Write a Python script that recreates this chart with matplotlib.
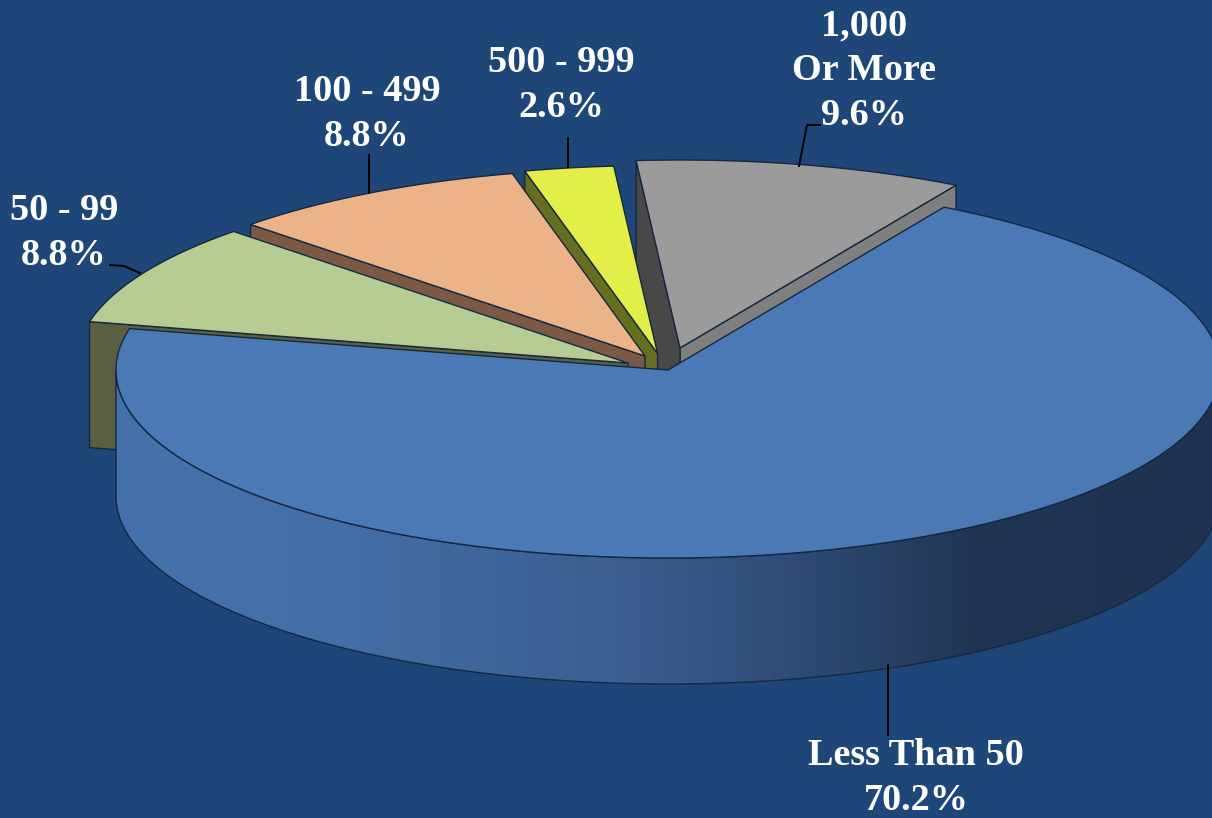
# exploded 3D pie, drawn by hand because matplotlib has no 3D pie
import numpy as np
import matplotlib
matplotlib.use("Agg")
import matplotlib.pyplot as plt
from matplotlib.patches import Polygon
from matplotlib.colors import LinearSegmentedColormap

# -----------------------------
# Data
# -----------------------------
categorias = ["Less Than 50", "50 - 99", "100 - 499", "500 - 999", "1,000\nOr More"]
porcentajes = [70.2, 8.8, 8.8, 2.6, 9.6]

# -----------------------------
# Layout (image pixels)
# -----------------------------
W, H = 1212, 818
RX, RY, DEPTH = 552, 188, 126
START = 60
puntas = [(668, 370), (628, 363), (645, 356), (657.6, 353.5), (680, 348)]
col_top = ["#4a79b5", "#b8cb92", "#edb388", "#e3ee48", "#9b9b9b"]
col_cara = [None, "#5a5f42", "#7a5a46", "#666f20", "#484848"]
col_borde = "#15283f"
fondo = "#1e4679"
texto_pos = [(916, 778), (64, 233), (367, 114), (561, 85), (864, 71)]
guias = [
    [(888, 665), (888, 735)],
    [(140, 273), (124, 266), (110, 265)],
    [(369, 193), (369, 155)],
    [(568, 167), (568, 138)],
    [(799, 166), (807, 125), (820, 125)],
]


def arco(c, a1, a2, n=200):
    t = np.radians(np.linspace(a1, a2, n))
    return np.column_stack([c[0] + RX * np.cos(t), c[1] - RY * np.sin(t)])


# angulos de cada porcion, en sentido horario desde START
angulos = []
a = START
for p in porcentajes:
    angulos.append((a, a - p * 3.6))
    a -= p * 3.6

fig = plt.figure(figsize=(W / 100, H / 100), dpi=100, facecolor=fondo)
ax = fig.add_axes([0, 0, 1, 1])
ax.set_facecolor(fondo)
ax.axis("off")

# porciones separadas, de atras hacia adelante
for i in [4, 3, 2, 1]:
    c = np.array(puntas[i], dtype=float)
    a1, a2 = angulos[i]
    borde = arco(c, a1, a2)
    abajo = np.array([0, DEPTH])
    z = 2 + (4 - i) * 3
    # en la porcion gris tambien se ve el corte derecho, mas claro
    if i == 4:
        cara2 = np.array([c, borde[-1], borde[-1] + abajo, c + abajo])
        ax.add_patch(Polygon(cara2, closed=True, fc="#7f7f7f", ec=col_borde, lw=1, zorder=z))
    cara = np.array([c, borde[0], borde[0] + abajo, c + abajo])
    ax.add_patch(Polygon(cara, closed=True, fc=col_cara[i], ec=col_borde, lw=1, zorder=z + 1))
    ax.add_patch(Polygon(np.vstack([c, borde]), closed=True, fc=col_top[i], ec=col_borde, lw=1, zorder=z + 2))

# pared frontal de la porcion principal, con degradado
c0 = np.array(puntas[0], dtype=float)
frente = arco(c0, 180, 360)
pared = Polygon(np.vstack([frente, frente[::-1] + [0, DEPTH]]), closed=True, fc="none", ec=col_borde, lw=1, zorder=21)
ax.add_patch(pared)
cmap = LinearSegmentedColormap.from_list(
    "lado",
    [(0.0, "#4672ab"), (0.2, "#446ea6"), (0.45, "#3c5e90"), (0.62, "#2f4b75"), (0.78, "#203552"), (1.0, "#1f3350")],
)
img = ax.imshow(np.linspace(0, 1, 512).reshape(1, -1), cmap=cmap, aspect="auto",
                extent=[c0[0] - RX, c0[0] + RX, c0[1] + RY + DEPTH, c0[1] - RY], zorder=20)
img.set_clip_path(pared)

a1, a2 = angulos[0]
ax.add_patch(Polygon(np.vstack([c0, arco(c0, a1, a2, 600)]), closed=True, fc=col_top[0], ec=col_borde, lw=1, zorder=22))

# guias y etiquetas
for g in guias:
    g = np.array(g)
    ax.plot(g[:, 0], g[:, 1], color="black", lw=1.4, zorder=25)

for cat, p, pos in zip(categorias, porcentajes, texto_pos):
    ax.text(pos[0], pos[1], f"{cat}\n{p}%", ha="center", va="center", color="white", fontsize=27.5,
            family="Liberation Serif", fontweight="bold", linespacing=1.36, zorder=30)

ax.set_xlim(0, W)
ax.set_ylim(H, 0)
fig.savefig("out.png", dpi=100, facecolor=fondo)
